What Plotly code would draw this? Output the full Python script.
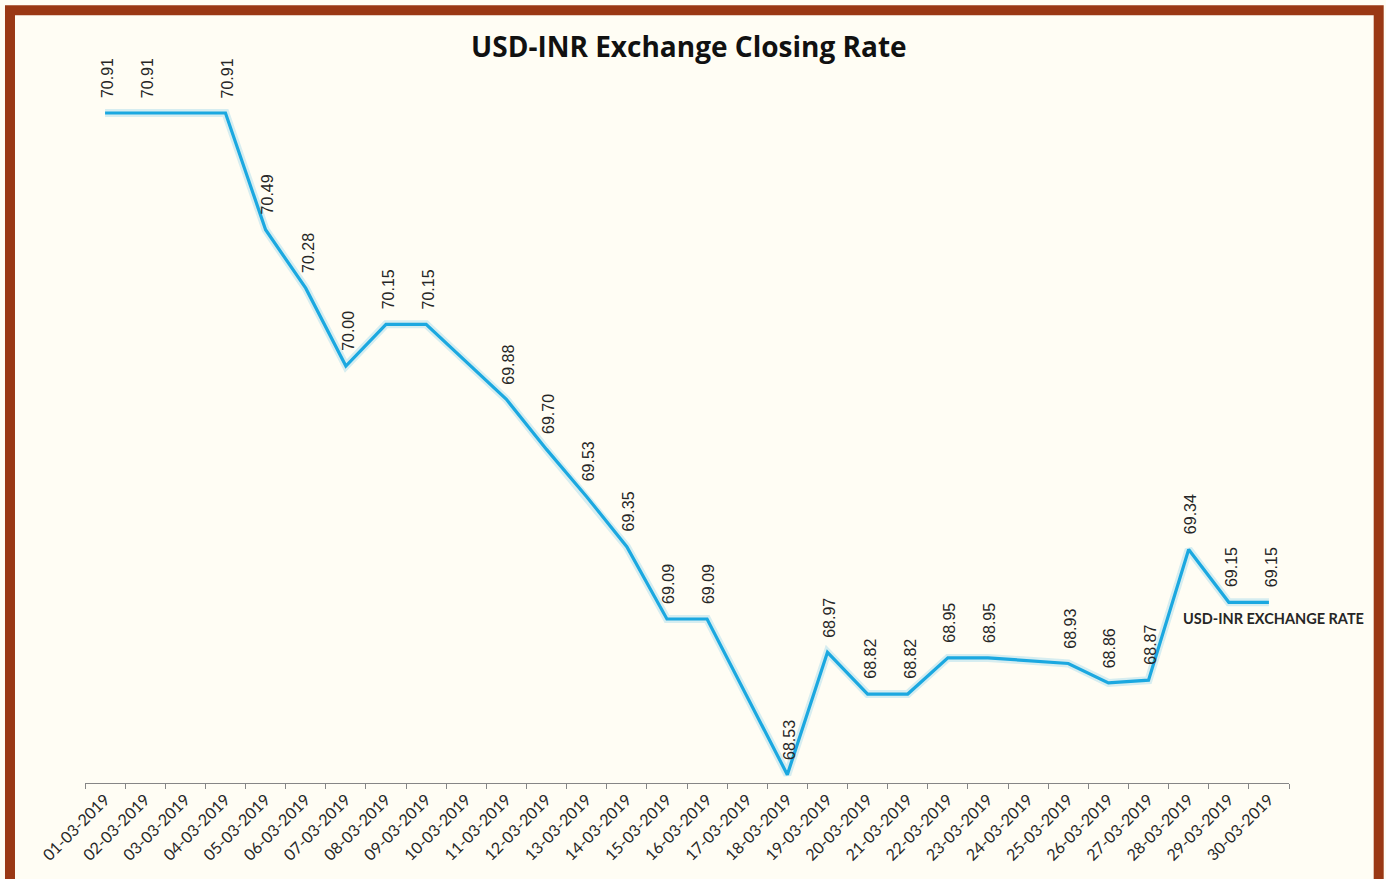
import plotly.graph_objects as go

dates = [f"{d:02d}-03-2019" for d in range(1, 31)]
rates = [70.91, 70.91, None, 70.91, 70.49, 70.28, 70.00, 70.15, 70.15, None,
         69.88, 69.70, 69.53, 69.35, 69.09, 69.09, None, 68.53, 68.97, 68.82,
         68.82, 68.95, 68.95, None, 68.93, 68.86, 68.87, 69.34, 69.15, 69.15]
series_name = "USD-INR EXCHANGE RATE"
title = "USD-INR Exchange Closing Rate"

fig = go.Figure()
fig.add_trace(go.Scatter(x=dates, y=rates, mode="lines", connectgaps=True,
                         line=dict(color="rgba(26,167,224,0.18)", width=8),
                         hoverinfo="skip", showlegend=False))
fig.add_trace(go.Scatter(x=dates, y=rates, mode="lines", connectgaps=True,
                         name=series_name,
                         line=dict(color="#1BA8E0", width=3.2), showlegend=False))

annotations = []
for d, v in zip(dates, rates):
    if v is None:
        continue
    annotations.append(dict(x=d, y=v, xref="x", yref="y", text=f"{v:.2f}",
                            showarrow=False, textangle=-90, yanchor="bottom",
                            xanchor="center", yshift=13, xshift=2,
                            font=dict(family="Liberation Sans, Arial", size=16, color="#262626")))
last_x = dates[-1]
last_v = rates[-1]
annotations.append(dict(x=last_x, y=last_v, xref="x", yref="y", text=f"<b>{series_name}</b>",
                        showarrow=False, yanchor="top", xanchor="center", yshift=-6, xshift=5,
                        font=dict(family="Lato, Open Sans", size=14.5, color="#262626")))

fig.update_layout(
    width=1386, height=879,
    margin=dict(l=85, r=97, t=88, b=96),
    paper_bgcolor="#FFFDF4", plot_bgcolor="#FFFDF4",
    title=dict(text=f"<b>{title}</b>", x=0.497, xanchor="center", y=0.946, yanchor="middle",
               font=dict(family="Open Sans, Lato", size=28, color="#111111")),
    annotations=annotations,
    shapes=[dict(type="rect", xref="paper", yref="paper",
                 x0=-0.0623, x1=1.0745, y0=-0.17, y1=1.112,
                 line=dict(color="#9A3814", width=10), fillcolor="rgba(0,0,0,0)", layer="below")],
)
fig.update_xaxes(type="category", range=[-0.5, 29.5], showgrid=False, showline=True,
                 linecolor="#868686", linewidth=1,
                 ticks="outside", ticklen=5, tickcolor="#868686", tickson="boundaries",
                 tickangle=-45, tickfont=dict(family="Lato, Open Sans", size=16, color="#262626"),
                 zeroline=False)
fig.update_yaxes(range=[68.5, 71.0], visible=False, showgrid=False, zeroline=False)

fig.write_html("out.html")
